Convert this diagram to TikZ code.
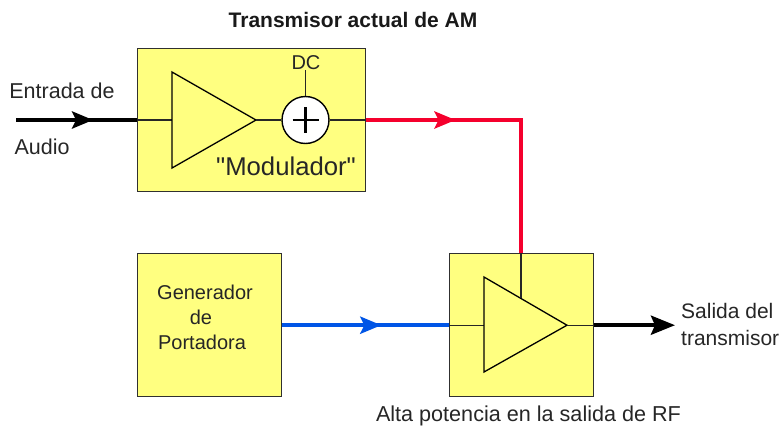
\documentclass[tikz,border=0pt]{standalone}
\usepackage{fontspec}
\setmainfont{Liberation Sans}
\newfontfamily\plainfont{Liberation Sans}[Ligatures=ResetAll]
\usetikzlibrary{arrows.meta,decorations.markings}
\definecolor{boxyellow}{HTML}{FFFF80}
\definecolor{sigred}{HTML}{F5002D}
\definecolor{sigblue}{HTML}{0055E6}
\definecolor{inkgrey}{HTML}{303030}
\tikzset{
  x=1pt,y=-1pt,
  block/.style={draw=inkgrey,line width=1.4pt,fill=boxyellow,minimum width=#1,inner sep=0pt,anchor=north west},
  wire/.style={line width=1.2pt,draw=black!85},
  amp/.style={line width=1.3pt,draw=black,fill=boxyellow,line join=miter},
  sig/.style={line width=4.2pt,line cap=butt},
  tip/.style={postaction={decorate},decoration={markings,mark=at position #1 with {\arrow{Stealth[length=21pt,width=17pt,inset=4pt]}}}},
  lab/.style={font=\fontsize{21.5}{25}\selectfont,text=black!85,inner sep=0pt},
}
\begin{document}
\begin{tikzpicture}
\useasboundingbox (0,0) rectangle (782,426);
\node[block=228.5pt,minimum height=143pt] (mod) at (136.5,47.5) {};
\node[block=144pt,minimum height=143pt,align=center] (gen) at (136.5,253) {};
\node[block=143.5pt,minimum height=143pt] (pa) at (449,253) {};
% coordinates
\coordinate (inL) at (16,120);
\coordinate (modL) at (mod.west |- inL);
\coordinate (modR) at (mod.east |- inL);
\coordinate (corner) at (521,120);
\coordinate (paT) at (pa.north -| corner);
\coordinate (outEnd) at (675,0 |- pa.east);
% modulator contents
\coordinate (a1o) at (256,120);
\coordinate (a1i) at (172,120);
\coordinate (a2o) at (567,0 |- pa.east);
\coordinate (a2i) at (484,0 |- pa.east);
\coordinate (a2g) at (521,298);
\draw[wire] (modL) -- (a1i);
\draw[amp] (172,72) -- (a1o) -- (172,168) -- cycle;
\node[circle,draw=black,line width=1.4pt,fill=white,minimum size=47pt,inner sep=0pt] (sum) at (305.5,120) {};
\draw[line width=2.4pt] (sum.center) ++(-13,0) -- ++(26,0) (sum.center) ++(0,-13) -- ++(0,26);
\draw[wire] (a1o) -- (sum.west);
\draw[wire] (sum.east) -- (modR);
\node[lab,font=\fontsize{20}{24}\selectfont] (dc) at (306,62.5) {DC};
\coordinate (dcw) at (sum.north |- dc.south);
\draw[wire] (dcw) -- (sum.north);
\node[lab,font=\fontsize{25.7}{30}\plainfont\selectfont] (mlab) at (286,166) {"Modulador"};
% PA contents
\draw[wire] (pa.west) -- (a2i);
\draw[amp] (484,277) -- (a2o) -- (484,372) -- cycle;
\draw[wire] (paT) -- (a2g);
\draw[wire] (a2o) -- (pa.east);
% signals
\draw[sig,black,tip=0.64] (inL) -- (modL);
\draw[sig,sigred,tip=0.31,line join=miter] (modR) -- (corner) -- (paT);
\draw[sig,sigblue,tip=0.595] (gen.east) -- (pa.west);
\draw[sig,black,-{Stealth[length=24pt,width=19pt,inset=4pt]}] (pa.east) -- (outEnd);
% labels
\node[font=\fontsize{21}{25}\bfseries\selectfont,text=black!90,inner sep=0pt] (title) at (353,20) {Transmisor actual de AM};
\node[lab] (ent) at (62,91) {Entrada de};
\node[lab] (aud) at (42,147) {Audio};
\node[lab,align=center,font=\fontsize{20}{25}\selectfont] (gtxt) at (205,317) {Generador\\de\kern8pt\\Portadora\kern6pt};
\node[lab,align=left,anchor=west,font=\fontsize{21}{27.5}\selectfont] (sal) at (681,324.5) {Salida del\\transmisor};
\node[lab,font=\fontsize{21.6}{25}\selectfont] (alta) at (528.5,416) {Alta potencia en la salida de RF};
\end{tikzpicture}
\end{document}
